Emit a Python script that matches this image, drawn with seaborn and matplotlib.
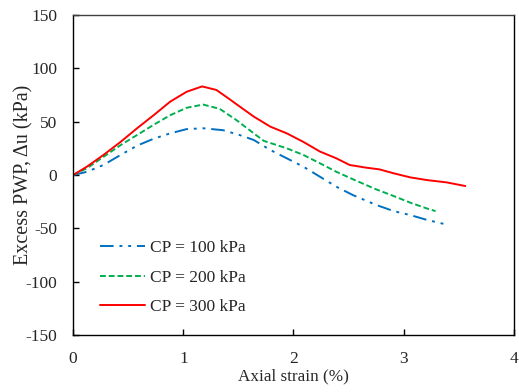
import numpy as np
import pandas as pd
import seaborn as sns
import matplotlib.pyplot as plt

# Axial strain (%) and excess pore water pressure (kPa)
strain_100 = [0, 0.124, 0.275, 0.43, 0.58, 0.73, 0.88, 1.03, 1.18, 1.36, 1.51, 1.64,
              1.79, 1.94, 2.09, 2.24, 2.39, 2.54, 2.75, 2.91, 3.06, 3.21, 3.41]
pwp_100 = [0, 3, 9.4, 18.8, 27.5, 34, 39, 43, 43.8, 42, 37.5, 32.8,
           23.4, 15.6, 7.8, -1.6, -11, -18.8, -28, -33.8, -37.5, -42, -46.9]

strain_200 = [0, 0.124, 0.275, 0.43, 0.58, 0.73, 0.88, 1.03, 1.18, 1.33, 1.48, 1.64,
              1.73, 1.94, 2.09, 2.24, 2.39, 2.54, 2.75, 2.91, 3.06, 3.21, 3.29]
pwp_200 = [0, 6.3, 17, 28, 37.5, 47, 56, 63, 66, 62, 51.6, 39,
           32, 25, 18.8, 11, 3, -4, -13.4, -19.7, -25.9, -31.3, -33.8]

strain_300 = [0, 0.124, 0.275, 0.43, 0.58, 0.73, 0.88, 1.03, 1.17, 1.30, 1.42, 1.48,
              1.64, 1.79, 1.94, 2.09, 2.24, 2.39, 2.51, 2.66, 2.78, 2.91, 3.06, 3.21,
              3.39, 3.56]
pwp_300 = [0, 7.8, 18.8, 31, 43.8, 56, 68.7, 78, 83, 79.7, 71, 66.5,
           54.7, 45.3, 39, 31, 22, 15.6, 9.4, 6.9, 5.3, 1.6, -2.2, -4.7,
           -6.9, -10.3]

labels = ['CP = 100 kPa', 'CP = 200 kPa', 'CP = 300 kPa']

sns.set_style('ticks')
plt.rcParams['font.family'] = ['Liberation Serif', 'DejaVu Serif']
plt.rcParams['axes.unicode_minus'] = False

fig, ax = plt.subplots(figsize=(5.19, 3.92), dpi=100)
fig.subplots_adjust(left=0.141, right=0.99, top=0.962, bottom=0.145)

series = [
    (strain_100, pwp_100, '#0070C0', (0, (7, 3, 1.5, 3, 1.5, 3))),
    (strain_200, pwp_200, '#00B050', (0, (3, 1.5))),
    (strain_300, pwp_300, '#FF0000', '-'),
]
for (x, y, color, ls), label in zip(series, labels):
    sns.lineplot(x=x, y=y, ax=ax, color=color, linestyle=ls, linewidth=1.4,
                 label=label, sort=False)

ax.set_xlim(0, 4)
ax.set_ylim(-150, 150)
ax.set_xticks([0, 1, 2, 3, 4])
ax.set_yticks(np.arange(-150, 151, 50))
ax.tick_params(direction='in', length=4, width=1, labelsize=12.5, color='black',
               pad=11.5)
for side in ['top', 'right', 'bottom', 'left']:
    ax.spines[side].set_color('black')
    ax.spines[side].set_linewidth(1)
ax.spines['top'].set_color('#404040')

ax.set_xlabel('Axial strain (%)', fontsize=12.3, labelpad=1)
ax.set_ylabel('Excess PWP, \u0394u (kPa)', fontsize=14.5, labelpad=-5.5)

ax.legend(loc='upper left', bbox_to_anchor=(0.025, 0.345), frameon=False,
          fontsize=12.5, handlelength=2.6, handletextpad=0.3, labelspacing=0.75)

fig.savefig('out.png', dpi=100)
